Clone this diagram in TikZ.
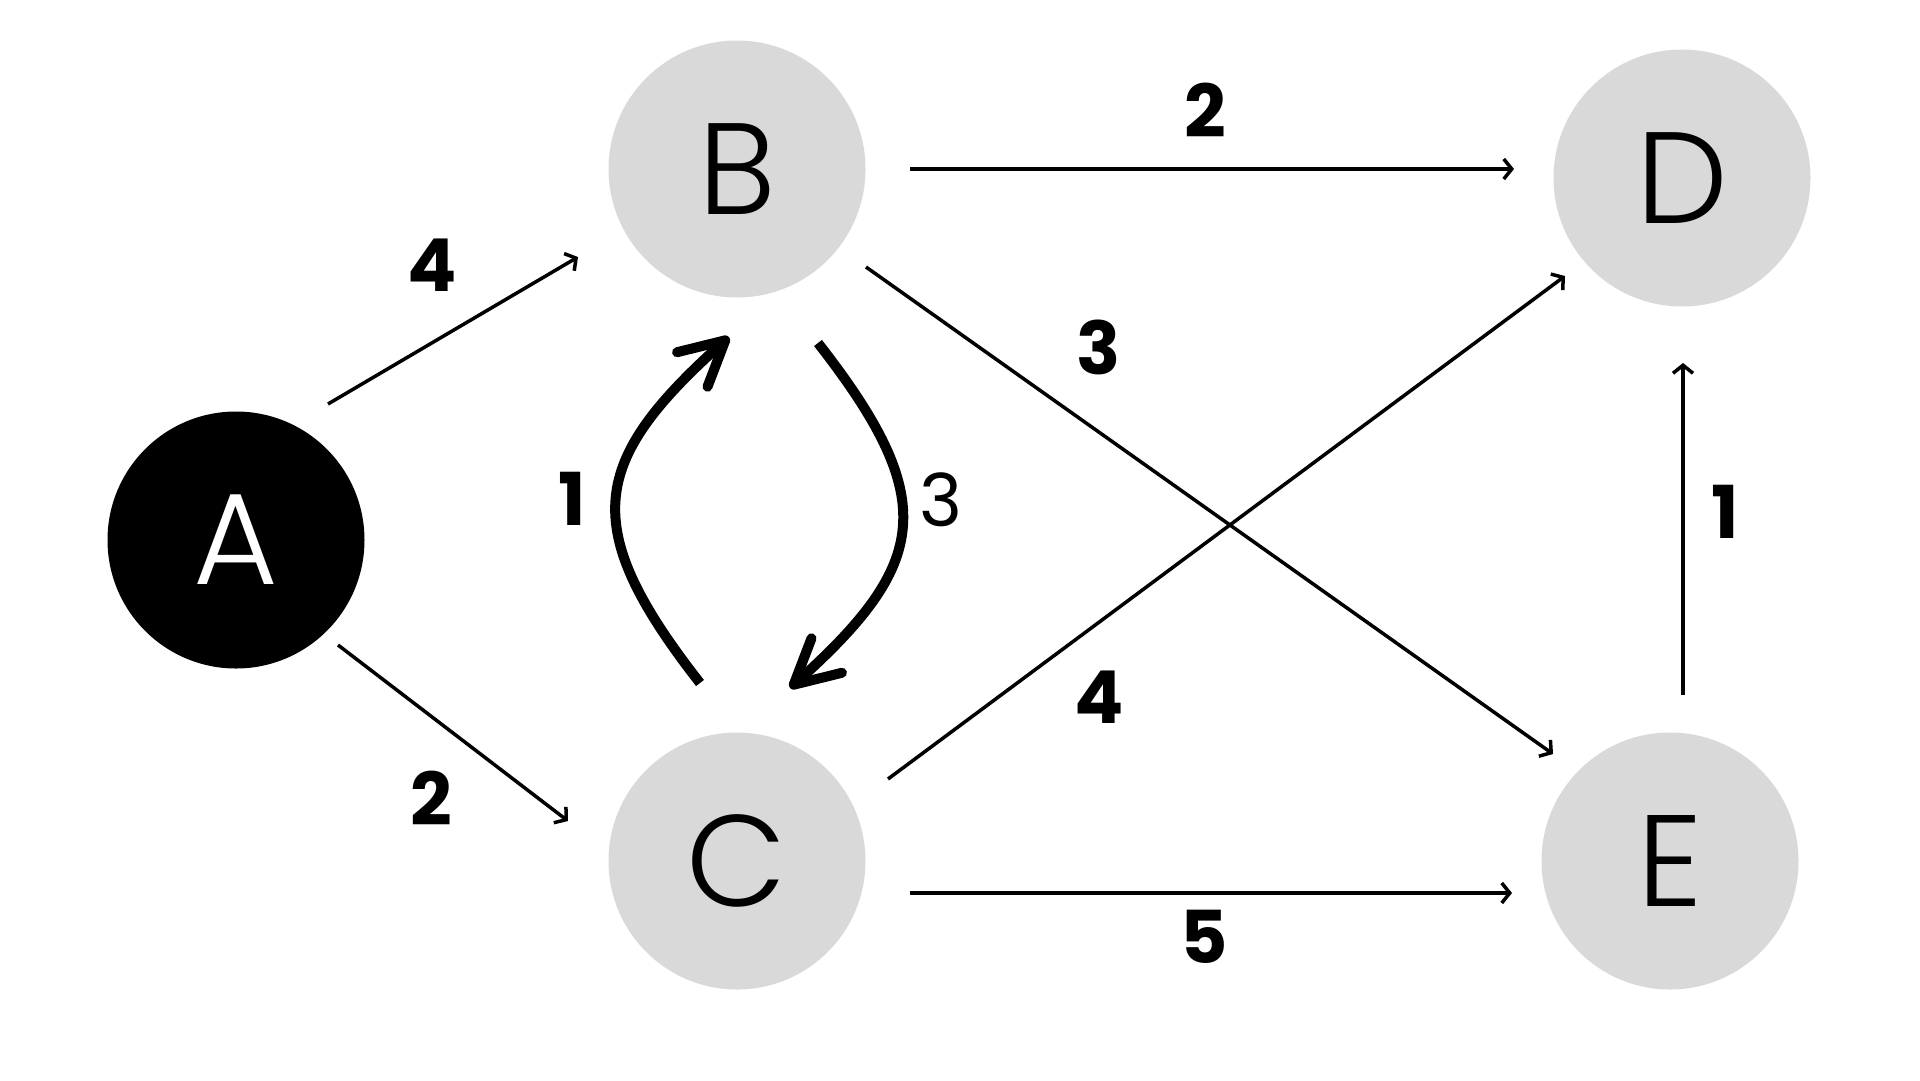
\documentclass[tikz,border=0pt]{standalone}
\usepackage{fontspec}
\setmainfont{Poppins}
\newfontfamily\letterfont{Poppins Light}
\usetikzlibrary{arrows.meta,bending,calc}
\definecolor{nodegray}{HTML}{D9D9D9}
\begin{document}
\begin{tikzpicture}[x=1pt,y=-1pt,
  vertex/.style={circle,fill=nodegray,minimum size=257pt,inner sep=0pt,
    font=\letterfont\fontsize{130}{130}\selectfont},
  start/.style={vertex,fill=black,text=white},
  edge/.style={line width=3.5pt,-{Straight Barb[length=8pt,width=20pt,line width=3.5pt]}},
  loopedge/.style={line width=10pt,-{Straight Barb[length=44pt,width=46pt,line width=10pt,round,flex]}},
  weight/.style={inner sep=0pt,font=\fontsize{73}{73}\selectfont\bfseries},
  lightweight/.style={inner sep=0pt,font=\fontsize{73}{73}\selectfont}]
\useasboundingbox (0,0) rectangle (1920,1080);

% vertices
\node[start]  (A) at (236,540) {A};
\node[vertex] (B) at (737,169) {B};
\node[vertex] (C) at (737,861) {C};
\node[vertex] (D) at (1682,178) {D};
\node[vertex] (E) at (1670,861) {E};

% straight edges
\draw[edge] ($(A)+(92,-136)$) -- ($(B)+(-159,88)$);
\draw[edge] ($(A)+(102,105)$) -- ($(C)+(-169,-40)$);
\draw[edge] ($(B)+(173,0)$) -- ($(D)+(-168,-9)$);
\draw[edge] ($(B)+(129,98)$) -- ($(E)+(-117,-107)$);
\draw[edge] ($(C)+(151,-82)$) -- ($(D)+(-117,98)$);
\draw[edge] ($(C)+(173,32)$) -- ($(E)+(-158,32)$);
\draw[edge] ($(E)+(13,-166)$) -- ($(D)+(1,185)$);

% curved edges between B and C
\draw[loopedge] ($(C)+(-37,-178)$) .. controls +(-125,-160) and +(-138,122) .. ($(B)+(-8,168)$);
\draw[loopedge] ($(B)+(81,174)$) .. controls +(125,160) and +(138,-122) .. ($(C)+(53,-173)$);

% weights
\node[weight] (wAB) at (432,265) {4};
\node[weight] (wAC) at (431,798) {2};
\node[weight] (wCB) at (572,499) {1};
\node[lightweight] (wBC) at (941,500) {3};
\node[weight] (wBD) at (1205,110) {2};
\node[weight] (wBE) at (1099,347) {3};
\node[weight] (wCD) at (1099,697) {4};
\node[weight] (wCE) at (1204,937) {5};
\node[weight] (wED) at (1725,512) {1};
\end{tikzpicture}
\end{document}
